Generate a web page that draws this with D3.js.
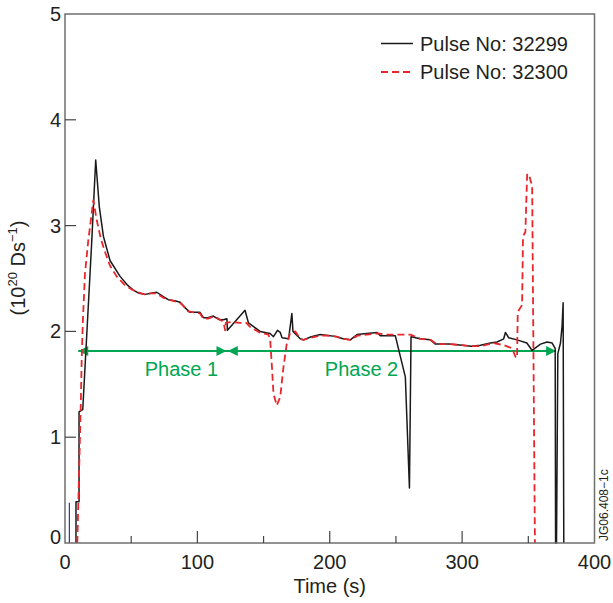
<!DOCTYPE html>
<html>
<head>
<meta charset="utf-8">
<script src="https://cdn.jsdelivr.net/npm/d3@7/dist/d3.min.js"></script>
<style>
	html, body { margin: 0; padding: 0; background: #fff; }
	svg { display: block; font-family: "Liberation Sans", Arial, Helvetica, sans-serif; }
</style>
</head>
<body>
<div id="chart"></div>
<script>

// DATA

const pulse32299Time = [
	8.3, 8.3, 10.6, 10.6, 13.4, 17, 20, 23.2, 25.9, 29, 34, 41.6, 47, 51.6, 56, 60.5, 65, 69.3, 74, 78,
	83, 87, 91, 94.5, 102, 104.6, 108, 112, 116.7, 119.7, 122.3, 122.7, 136, 138.6, 143, 147.4, 155, 157.5,
	160.5, 162.6, 164, 168.9, 171.4, 172.2, 177.7, 180.2, 186, 192.8, 200, 205.4, 210, 215.5, 220.6, 228,
	235.7, 238.2, 249.5, 257.1, 260.2, 261.4, 268.4, 276, 279.8, 290, 300, 307, 313.8, 321.4, 326.4, 331.4,
	332.7, 335.2, 341.5, 348.9, 352.9, 359.2, 364.2, 368, 370.3, 370.6, 371.3, 372.3, 374.3, 375.5, 376.3, 376.8
];
const pulse32299Value = [
	0, 0.39, 0.39, 1.24, 1.26, 2.1, 2.8, 3.62, 3.18, 2.9, 2.67, 2.52, 2.44, 2.39, 2.36, 2.35, 2.36, 2.37, 2.33, 2.3,
	2.29, 2.275, 2.22, 2.18, 2.18, 2.13, 2.13, 2.145, 2.11, 2.11, 2.12, 2.01, 2.2, 2.08, 2.04, 2.0, 1.98, 1.95,
	2.01, 1.99, 1.94, 1.93, 2.17, 2.0, 1.93, 1.92, 1.95, 1.97, 1.96, 1.95, 1.93, 1.92, 1.97, 1.98,
	1.99, 1.96, 1.96, 1.57, 0.52, 1.95, 1.93, 1.92, 1.88, 1.88, 1.87, 1.86, 1.87, 1.89, 1.9, 1.93,
	1.99, 1.94, 1.92, 1.89, 1.82, 1.88, 1.9, 1.89, 1.84, 0, 0, 1.79, 1.89, 2.05, 2.27, 0
];

const pulse32300Time = [
	9.3, 10.5, 12, 12.6, 13.5, 15.1, 17.6, 20, 21.4, 24, 27, 30, 34, 39, 45, 50, 55, 60, 65, 69, 74, 78, 84, 88,
	93, 98, 102, 104.5, 108, 112, 116, 119.7, 121, 121.5, 126, 132, 137, 140, 147, 153.7, 155, 156.3, 157.5,
	160, 162.6, 165.1, 167.6, 170, 174, 177.7, 180.2, 186, 193, 200, 205, 210, 215.5, 221, 228, 236, 242,
	249.5, 255, 261, 268.4, 276, 281, 290, 300, 307, 313.8, 323.9, 331.4, 337.8, 340.3, 341.5, 342, 342.8,
	345.3, 346, 347.8, 349.1, 350.3, 351.6, 352.9, 355
];
const pulse32300Value = [
	0, 0.6, 1.35, 1.73, 2.1, 2.55, 2.86, 3.1, 3.24, 3.05, 2.88, 2.76, 2.62, 2.52, 2.44, 2.4, 2.37, 2.35, 2.36, 2.36, 2.32, 2.3, 2.28, 2.26,
	2.19, 2.18, 2.17, 2.12, 2.12, 2.14, 2.12, 2.09, 2.01, 2.08, 2.09, 2.08, 2.08, 2.04, 1.99, 1.97, 1.92, 1.67, 1.41,
	1.3, 1.38, 1.67, 1.89, 1.98, 2.0, 1.93, 1.92, 1.94, 1.96, 1.96, 1.95, 1.93, 1.92, 1.96, 1.97, 1.98, 1.97,
	1.97, 1.97, 1.97, 1.93, 1.92, 1.88, 1.88, 1.87, 1.86, 1.86, 1.89, 1.87, 1.84, 1.76, 1.75, 2.17, 2.2,
	2.25, 2.9, 2.94, 3.48, 3.49, 3.43, 3.38, 0
];

const markerTime = [3.3, 3.3];
const markerValue = [0, 0.38];

const phaseNames = ['Phase 1', 'Phase 2'];
const phaseStart = [10, 123];
const phaseEnd = [122, 371];
const phaseLabelAt = [88, 224];
const phaseLevel = 1.815;

const xTicksMajor = [0, 100, 200, 300, 400];
const xTicksMinor = [50, 150, 250, 350];
const yTicks = [0, 1, 2, 3, 4, 5];

const legendNames = ['Pulse No: 32299', 'Pulse No: 32300'];

// GRAPH

const width = 613,
			height = 603,
			ink = '#231f20',
			frameColor = '#6f6f6f',
			green = '#00a651';

const x = d3.scaleLinear().domain([0, 400]).range([65, 594.5]),
			y = d3.scaleLinear().domain([0, 5]).range([543, 14]);

const svg = d3.select('#chart')
	.append('svg')
	.attr('width', width)
	.attr('height', height)
	.attr('viewBox', `0 0 ${width} ${height}`);

const zip = (ts, vs) => ts.map((t, i) => [t, vs[i]]);

const line = d3.line()
	.x(d => x(d[0]))
	.y(d => y(d[1]));

const series = [
	{ name: legendNames[0], points: zip(pulse32299Time, pulse32299Value), color: '#1a1a1a', width: 1.5, dash: null },
	{ name: legendNames[1], points: zip(pulse32300Time, pulse32300Value), color: '#e8262b', width: 1.8, dash: '7,4' }
];

// phase arrows (under the traces)

const phases = phaseNames.map((name, i) => ({ name, start: phaseStart[i], end: phaseEnd[i], at: phaseLabelAt[i] }));

const phaseG = svg.append('g').attr('class', 'phases');

phaseG.append('line')
	.attr('x1', x(phaseStart[0]))
	.attr('x2', x(phaseEnd[phaseEnd.length - 1]))
	.attr('y1', y(phaseLevel))
	.attr('y2', y(phaseLevel))
	.attr('stroke', green)
	.attr('stroke-width', 2);

const head = (tip, dir) => {
	const yy = y(phaseLevel);
	return `M${tip},${yy} L${tip - dir * 10},${yy - 5} L${tip - dir * 10},${yy + 5} Z`;
};

phaseG.selectAll('.head')
	.data(phases.flatMap(p => [[x(p.start), -1], [x(p.end), 1]]))
	.join('path')
	.classed('head', true)
	.attr('d', d => head(d[0], d[1]))
	.attr('fill', green);

phaseG.selectAll('.phase-label')
	.data(phases)
	.join('text')
	.classed('phase-label', true)
	.attr('x', d => x(d.at))
	.attr('y', y(phaseLevel) + 25)
	.attr('text-anchor', 'middle')
	.attr('font-size', 20)
	.attr('fill', green)
	.text(d => d.name);

// traces

svg.append('path')
	.attr('d', line(zip(markerTime, markerValue)))
	.attr('stroke', '#2b3990')
	.attr('stroke-width', 1.2)
	.attr('fill', 'none');

svg.selectAll('.trace')
	.data(series)
	.join('path')
	.classed('trace', true)
	.attr('d', d => line(d.points))
	.attr('fill', 'none')
	.attr('stroke', d => d.color)
	.attr('stroke-width', d => d.width)
	.attr('stroke-dasharray', d => d.dash)
	.attr('stroke-linejoin', 'round');

// frame and ticks

svg.append('rect')
	.attr('x', x(0))
	.attr('y', y(5))
	.attr('width', x(400) - x(0))
	.attr('height', y(0) - y(5))
	.attr('fill', 'none')
	.attr('stroke', frameColor)
	.attr('stroke-width', 1.5);

svg.selectAll('.ytick')
	.data(yTicks.slice(1, -1))
	.join('line')
	.classed('ytick', true)
	.attr('x1', x(0))
	.attr('x2', x(0) + 11)
	.attr('y1', d => y(d))
	.attr('y2', d => y(d))
	.attr('stroke', '#444')
	.attr('stroke-width', 1.2);

svg.selectAll('.xtick')
	.data([...xTicksMajor.slice(1, -1).map(v => [v, 12]), ...xTicksMinor.map(v => [v, 7])])
	.join('line')
	.classed('xtick', true)
	.attr('x1', d => x(d[0]))
	.attr('x2', d => x(d[0]))
	.attr('y1', y(0))
	.attr('y2', d => y(0) - d[1])
	.attr('stroke', '#444')
	.attr('stroke-width', 1.2);

svg.selectAll('.ylabel')
	.data(yTicks)
	.join('text')
	.classed('ylabel', true)
	.attr('x', x(0) - 4)
	.attr('y', d => y(d) + (d === 0 ? 1 : 7))
	.attr('text-anchor', 'end')
	.attr('font-size', 20)
	.attr('fill', ink)
	.text(d => d);

svg.selectAll('.xlabel')
	.data(xTicksMajor)
	.join('text')
	.classed('xlabel', true)
	.attr('x', d => x(d))
	.attr('y', 569)
	.attr('text-anchor', 'middle')
	.attr('font-size', 20)
	.attr('fill', ink)
	.text(d => d);

svg.append('text')
	.attr('x', x(200))
	.attr('y', 593)
	.attr('text-anchor', 'middle')
	.attr('font-size', 20)
	.attr('fill', ink)
	.text('Time (s)');

const yTitle = svg.append('text')
	.attr('transform', `translate(25, 268) rotate(-90)`)
	.attr('text-anchor', 'middle')
	.attr('font-size', 20)
	.attr('fill', ink);

yTitle.append('tspan').text('(10');
yTitle.append('tspan').attr('font-size', 13).attr('dy', -8).text('20');
yTitle.append('tspan').attr('dy', 8).text(' Ds');
yTitle.append('tspan').attr('font-size', 13).attr('dy', -8).text('\u22121');
yTitle.append('tspan').attr('dy', 8).text(')');

svg.append('text')
	.attr('transform', `translate(608, 541) rotate(-90)`)
	.attr('font-size', 12)
	.attr('fill', ink)
	.text('JG06.408\u22121c');

// legend

const legend = svg.selectAll('.legend')
	.data(series)
	.join('g')
	.classed('legend', true)
	.attr('transform', (d, i) => `translate(381, ${43.5 + i * 28.5})`);

legend.append('line')
	.attr('x1', 0)
	.attr('x2', 32)
	.attr('stroke', d => d.color)
	.attr('stroke-width', d => d.width)
	.attr('stroke-dasharray', d => d.dash);

legend.append('text')
	.attr('x', 39)
	.attr('y', 7)
	.attr('font-size', 20)
	.attr('fill', ink)
	.text(d => d.name);

</script>
</body>
</html>
